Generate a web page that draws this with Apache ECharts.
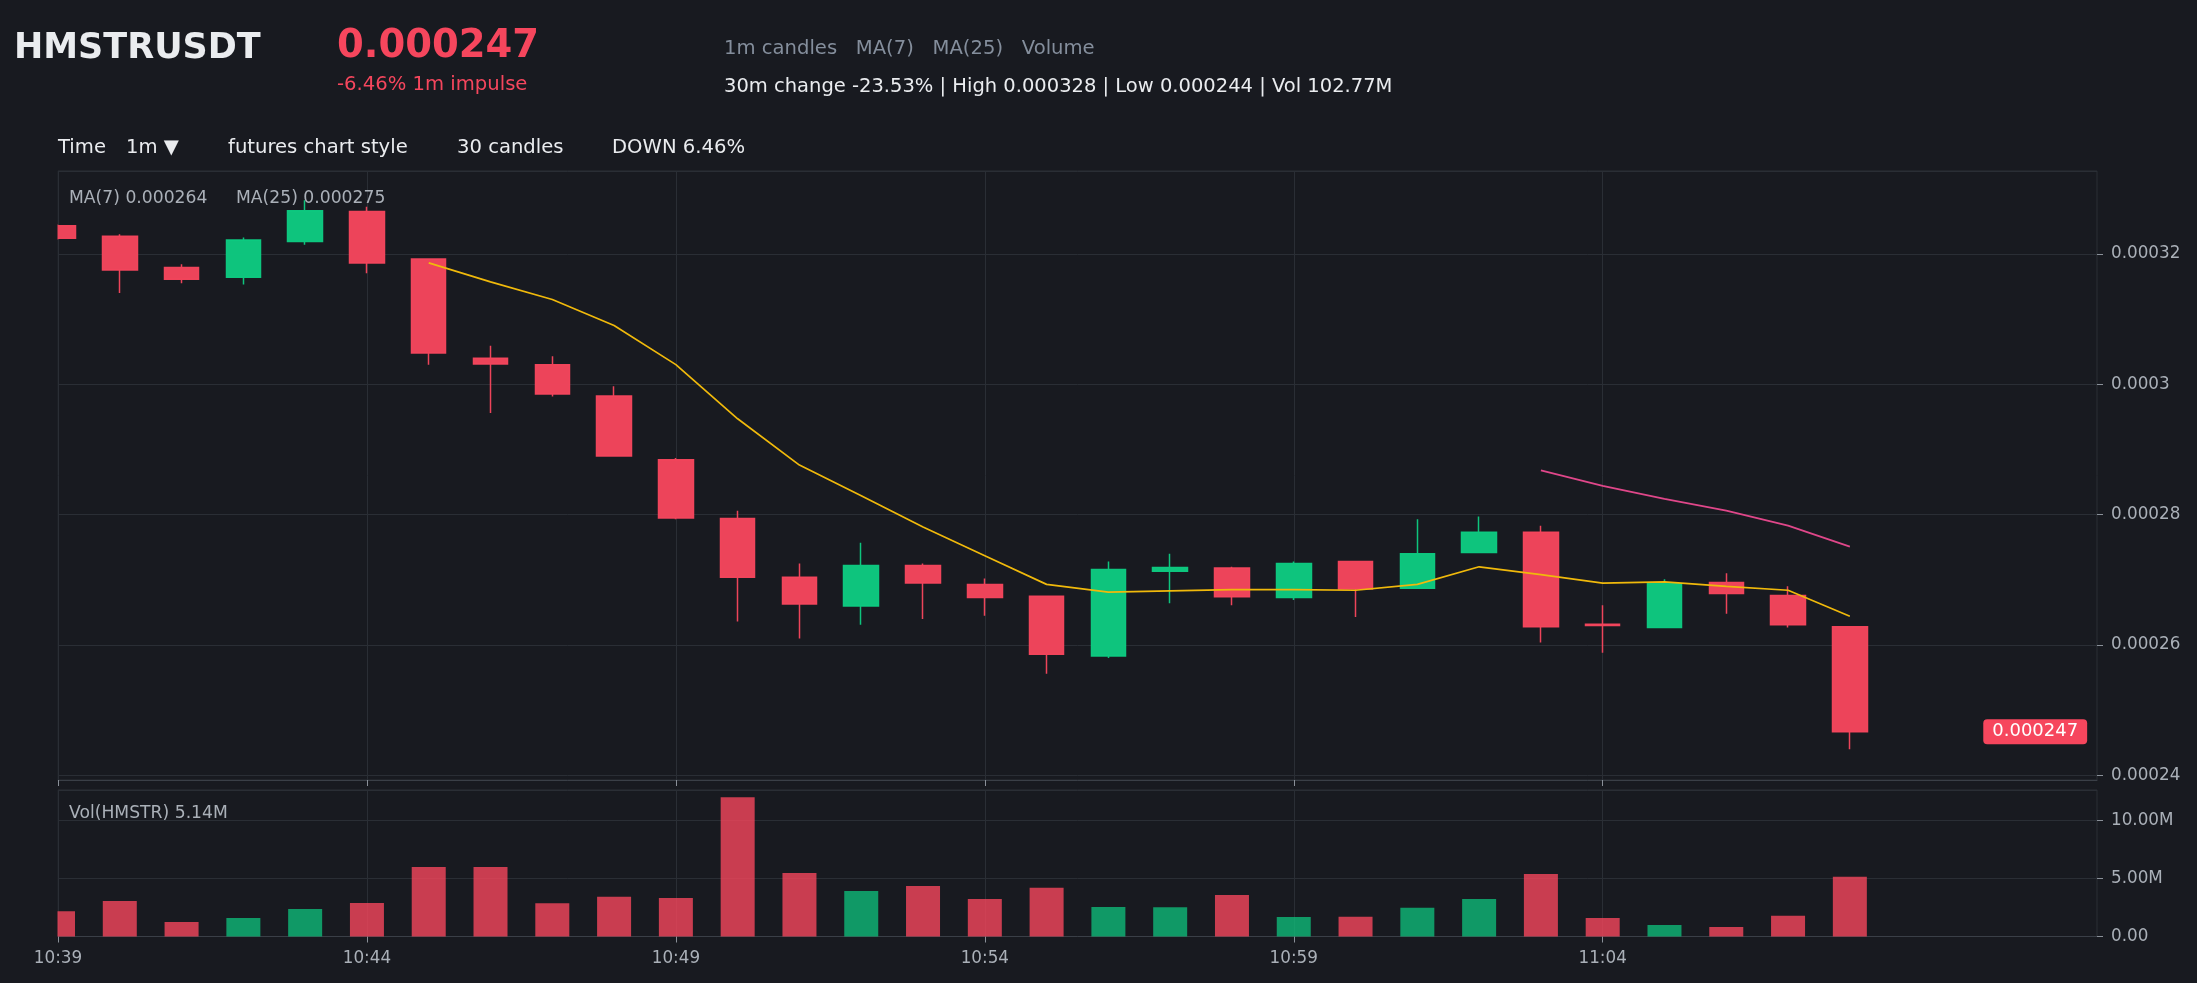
<!DOCTYPE html>
<html>
<head>
<meta charset="utf-8">
<title>HMSTRUSDT 1m</title>
<script src="https://cdn.jsdelivr.net/npm/echarts@6/dist/echarts.min.js"></script>
<style>
  html, body { margin: 0; padding: 0; background: #181a20; }
  #chart { width: 2197px; height: 983px; }
</style>
</head>
<body>
<div id="chart"></div>
<script>
// 1m candles, 10:39 -> 11:08 (axis runs on to 11:12 for right padding)
const times = ['10:39', '10:40', '10:41', '10:42', '10:43', '10:44', '10:45', '10:46', '10:47', '10:48',
  '10:49', '10:50', '10:51', '10:52', '10:53', '10:54', '10:55', '10:56', '10:57', '10:58',
  '10:59', '11:00', '11:01', '11:02', '11:03', '11:04', '11:05', '11:06', '11:07', '11:08',
  '11:09', '11:10', '11:11', '11:12'];

const opens = [0.0003243, 0.0003227, 0.0003179, 0.0003164, 0.0003219, 0.0003265, 0.0003192, 0.000304, 0.000303, 0.0002982,
  0.0002884, 0.0002794, 0.0002704, 0.000266, 0.0002722, 0.0002693, 0.0002675, 0.0002583, 0.0002713, 0.0002718,
  0.0002673, 0.0002728, 0.0002687, 0.0002742, 0.0002773, 0.0002632, 0.0002627, 0.0002696, 0.0002676, 0.0002628];
const closes = [0.0003224, 0.0003175, 0.0003161, 0.0003221, 0.0003266, 0.0003186, 0.0003048, 0.0003031, 0.0002985, 0.000289,
  0.0002795, 0.0002704, 0.0002663, 0.0002722, 0.0002695, 0.0002673, 0.0002586, 0.0002716, 0.0002719, 0.0002674,
  0.0002725, 0.0002686, 0.000274, 0.0002773, 0.0002628, 0.000263, 0.0002694, 0.0002679, 0.0002631, 0.0002467];
const highs = [0.0003245, 0.000323, 0.0003184, 0.0003225, 0.0003282, 0.0003272, 0.0003193, 0.0003059, 0.0003043, 0.0002997,
  0.0002887, 0.0002806, 0.0002725, 0.0002757, 0.0002725, 0.0002702, 0.0002676, 0.0002728, 0.000274, 0.000272,
  0.0002728, 0.0002729, 0.0002793, 0.0002797, 0.0002783, 0.0002661, 0.0002701, 0.000271, 0.000269, 0.0002629];
const lows = [0.0003222, 0.000314, 0.0003155, 0.0003153, 0.0003214, 0.000317, 0.000303, 0.0002956, 0.0002981, 0.0002889,
  0.0002793, 0.0002636, 0.000261, 0.0002631, 0.000264, 0.0002645, 0.0002556, 0.000258, 0.0002664, 0.0002661,
  0.0002669, 0.0002643, 0.0002686, 0.0002741, 0.0002604, 0.0002588, 0.0002626, 0.0002648, 0.0002627, 0.000244];

// volume in millions
const volumes = [2.17, 3.05, 1.25, 1.59, 2.37, 2.88, 5.98, 5.98, 2.86, 3.43,
  3.31, 11.98, 5.46, 3.92, 4.35, 3.23, 4.2, 2.54, 2.52, 3.57,
  1.68, 1.7, 2.48, 3.23, 5.38, 1.59, 0.99, 0.82, 1.79, 5.14];

// moving averages as drawn
const ma7 = [null, null, null, null, null, null,
  0.0003186, 0.0003157, 0.000313, 0.000309, 0.000303, 0.0002947, 0.0002876, 0.0002829, 0.0002781, 0.0002737,
  0.0002693, 0.0002681, 0.0002683, 0.0002685, 0.0002685, 0.0002684, 0.0002693, 0.000272, 0.0002708, 0.0002695,
  0.0002697, 0.000269, 0.0002684, 0.0002644];
const ma25 = [null, null, null, null, null, null, null, null, null, null, null, null,
  null, null, null, null, null, null, null, null, null, null, null, null,
  0.0002868, 0.0002844, 0.0002824, 0.0002806, 0.0002783, 0.0002751];

const UP = '#0ecb81';
const DOWN = '#f6465d';
const BG = '#181a20';
const GRID_LINE = '#2a2e35';
const AXIS_TEXT = '#aab0b8';
const FONT = 'DejaVu Sans';

const kData = opens.map((o, i) => [o, closes[i], lows[i], highs[i]]);
const volData = volumes.map((v, i) => ({
  value: v,
  itemStyle: { color: closes[i] >= opens[i] ? 'rgba(14,203,129,0.72)' : 'rgba(246,70,93,0.8)' }
}));
const lastClose = closes[closes.length - 1];

// ticks every 5 minutes, up to 11:04
const fiveMin = (idx) => idx % 5 === 0 && idx <= 25;

const chart = echarts.init(document.getElementById('chart'));

const txt = (x, y, text, size, color, weight) => ({
  type: 'text',
  x: x,
  y: y,
  z: 200,
  style: {
    text: text,
    fill: color,
    font: (weight || 'normal') + ' ' + size + 'px "' + FONT + '"',
    verticalAlign: 'middle'
  }
});

const option = {
  backgroundColor: BG,
  animation: false,
  textStyle: { fontFamily: FONT },
  graphic: [
    // mask so the first candle / bar is cut at the plot edge
    { type: 'rect', x: 0, y: 160, z: 150, silent: true, shape: { width: 57.5, height: 782 }, style: { fill: BG } },
    txt(14, 49, 'HMSTRUSDT', 35, '#eaecef', 'bold'),
    txt(337, 47, '0.000247', 38.5, DOWN, 'bold'),
    txt(337, 85, '-6.46% 1m impulse', 19.6, DOWN),
    txt(724, 48.5, '1m candles   MA(7)   MA(25)   Volume', 19.6, '#848e9c'),
    txt(724, 86.5, '30m change -23.53% | High 0.000328 | Low 0.000244 | Vol 102.77M', 19.5, '#eaecef'),
    txt(58, 147.5, 'Time', 19.6, '#eaecef'),
    txt(126, 147.5, '1m ▼', 19.6, '#eaecef'),
    txt(228, 147.5, 'futures chart style', 19.6, '#eaecef'),
    txt(457, 147.5, '30 candles', 19.6, '#eaecef'),
    txt(612, 147.5, 'DOWN 6.46%', 19.6, '#eaecef'),
    txt(69, 198.5, 'MA(7) 0.000264', 17.2, AXIS_TEXT),
    txt(236, 198.5, 'MA(25) 0.000275', 17.2, AXIS_TEXT),
    txt(69, 814, 'Vol(HMSTR) 5.14M', 17.2, AXIS_TEXT)
  ],
  grid: [
    { left: 58, right: 100, top: 171, height: 609, show: true, borderColor: GRID_LINE, borderWidth: 1 },
    { left: 58, right: 100, top: 790, height: 146.5, show: true, borderColor: GRID_LINE, borderWidth: 1 }
  ],
  xAxis: [
    {
      type: 'category',
      gridIndex: 0,
      data: times,
      boundaryGap: false,
      axisLine: { lineStyle: { color: '#3a3f47' } },
      axisTick: { show: true, interval: fiveMin, length: 6, lineStyle: { color: '#8a9099' } },
      axisLabel: { show: false },
      splitLine: { show: true, interval: fiveMin, lineStyle: { color: GRID_LINE } }
    },
    {
      type: 'category',
      gridIndex: 1,
      data: times,
      boundaryGap: false,
      axisLine: { lineStyle: { color: '#3a3f47' } },
      axisTick: { show: true, interval: fiveMin, length: 6, lineStyle: { color: '#8a9099' } },
      axisLabel: { interval: fiveMin, color: AXIS_TEXT, fontSize: 16.8, margin: 14 },
      splitLine: { show: true, interval: fiveMin, lineStyle: { color: GRID_LINE } }
    }
  ],
  yAxis: [
    {
      type: 'value',
      gridIndex: 0,
      position: 'right',
      min: 0.0002393,
      max: 0.0003327,
      splitNumber: 5,
      axisLine: { show: false },
      axisTick: { show: true, length: 6, lineStyle: { color: '#8a9099' } },
      axisLabel: { color: AXIS_TEXT, fontSize: 16.8, margin: 14, showMinLabel: false, showMaxLabel: false },
      splitLine: { lineStyle: { color: GRID_LINE } }
    },
    {
      type: 'value',
      gridIndex: 1,
      position: 'right',
      min: 0,
      max: 12.61,
      interval: 5,
      axisLine: { show: false },
      axisTick: { show: true, length: 6, lineStyle: { color: '#8a9099' } },
      axisLabel: {
        color: AXIS_TEXT, fontSize: 16.8, margin: 14, showMaxLabel: false,
        formatter: (v) => v === 0 ? '0.00' : v.toFixed(2) + 'M'
      },
      splitLine: { lineStyle: { color: GRID_LINE } }
    }
  ],
  series: [
    {
      name: 'HMSTRUSDT',
      type: 'candlestick',
      xAxisIndex: 0,
      yAxisIndex: 0,
      data: kData,
      barWidth: 35,
      itemStyle: {
        color: UP,
        color0: DOWN,
        borderColor: UP,
        borderColor0: DOWN,
        borderWidth: 1.5,
        opacity: 0.96
      },
      markPoint: {
        silent: true,
        symbol: 'rect',
        symbolSize: 1,
        itemStyle: { color: 'rgba(0,0,0,0)' },
        label: {
          show: true,
          position: 'inside',
          color: '#ffffff',
          fontSize: 18,
          fontFamily: FONT,
          backgroundColor: DOWN,
          borderRadius: 4,
          padding: [4, 9, 3, 9],
          formatter: '0.000247'
        },
        data: [{ coord: [32, lastClose] }]
      }
    },
    {
      name: 'MA(7)',
      type: 'line',
      xAxisIndex: 0,
      yAxisIndex: 0,
      data: ma7,
      symbol: 'none',
      lineStyle: { color: '#f0b90b', width: 1.7 }
    },
    {
      name: 'MA(25)',
      type: 'line',
      xAxisIndex: 0,
      yAxisIndex: 0,
      data: ma25,
      symbol: 'none',
      lineStyle: { color: '#e0478a', width: 1.8 }
    },
    {
      name: 'Volume',
      type: 'bar',
      xAxisIndex: 1,
      yAxisIndex: 1,
      data: volData,
      barWidth: 34
    }
  ]
};

chart.setOption(option);
</script>
</body>
</html>
